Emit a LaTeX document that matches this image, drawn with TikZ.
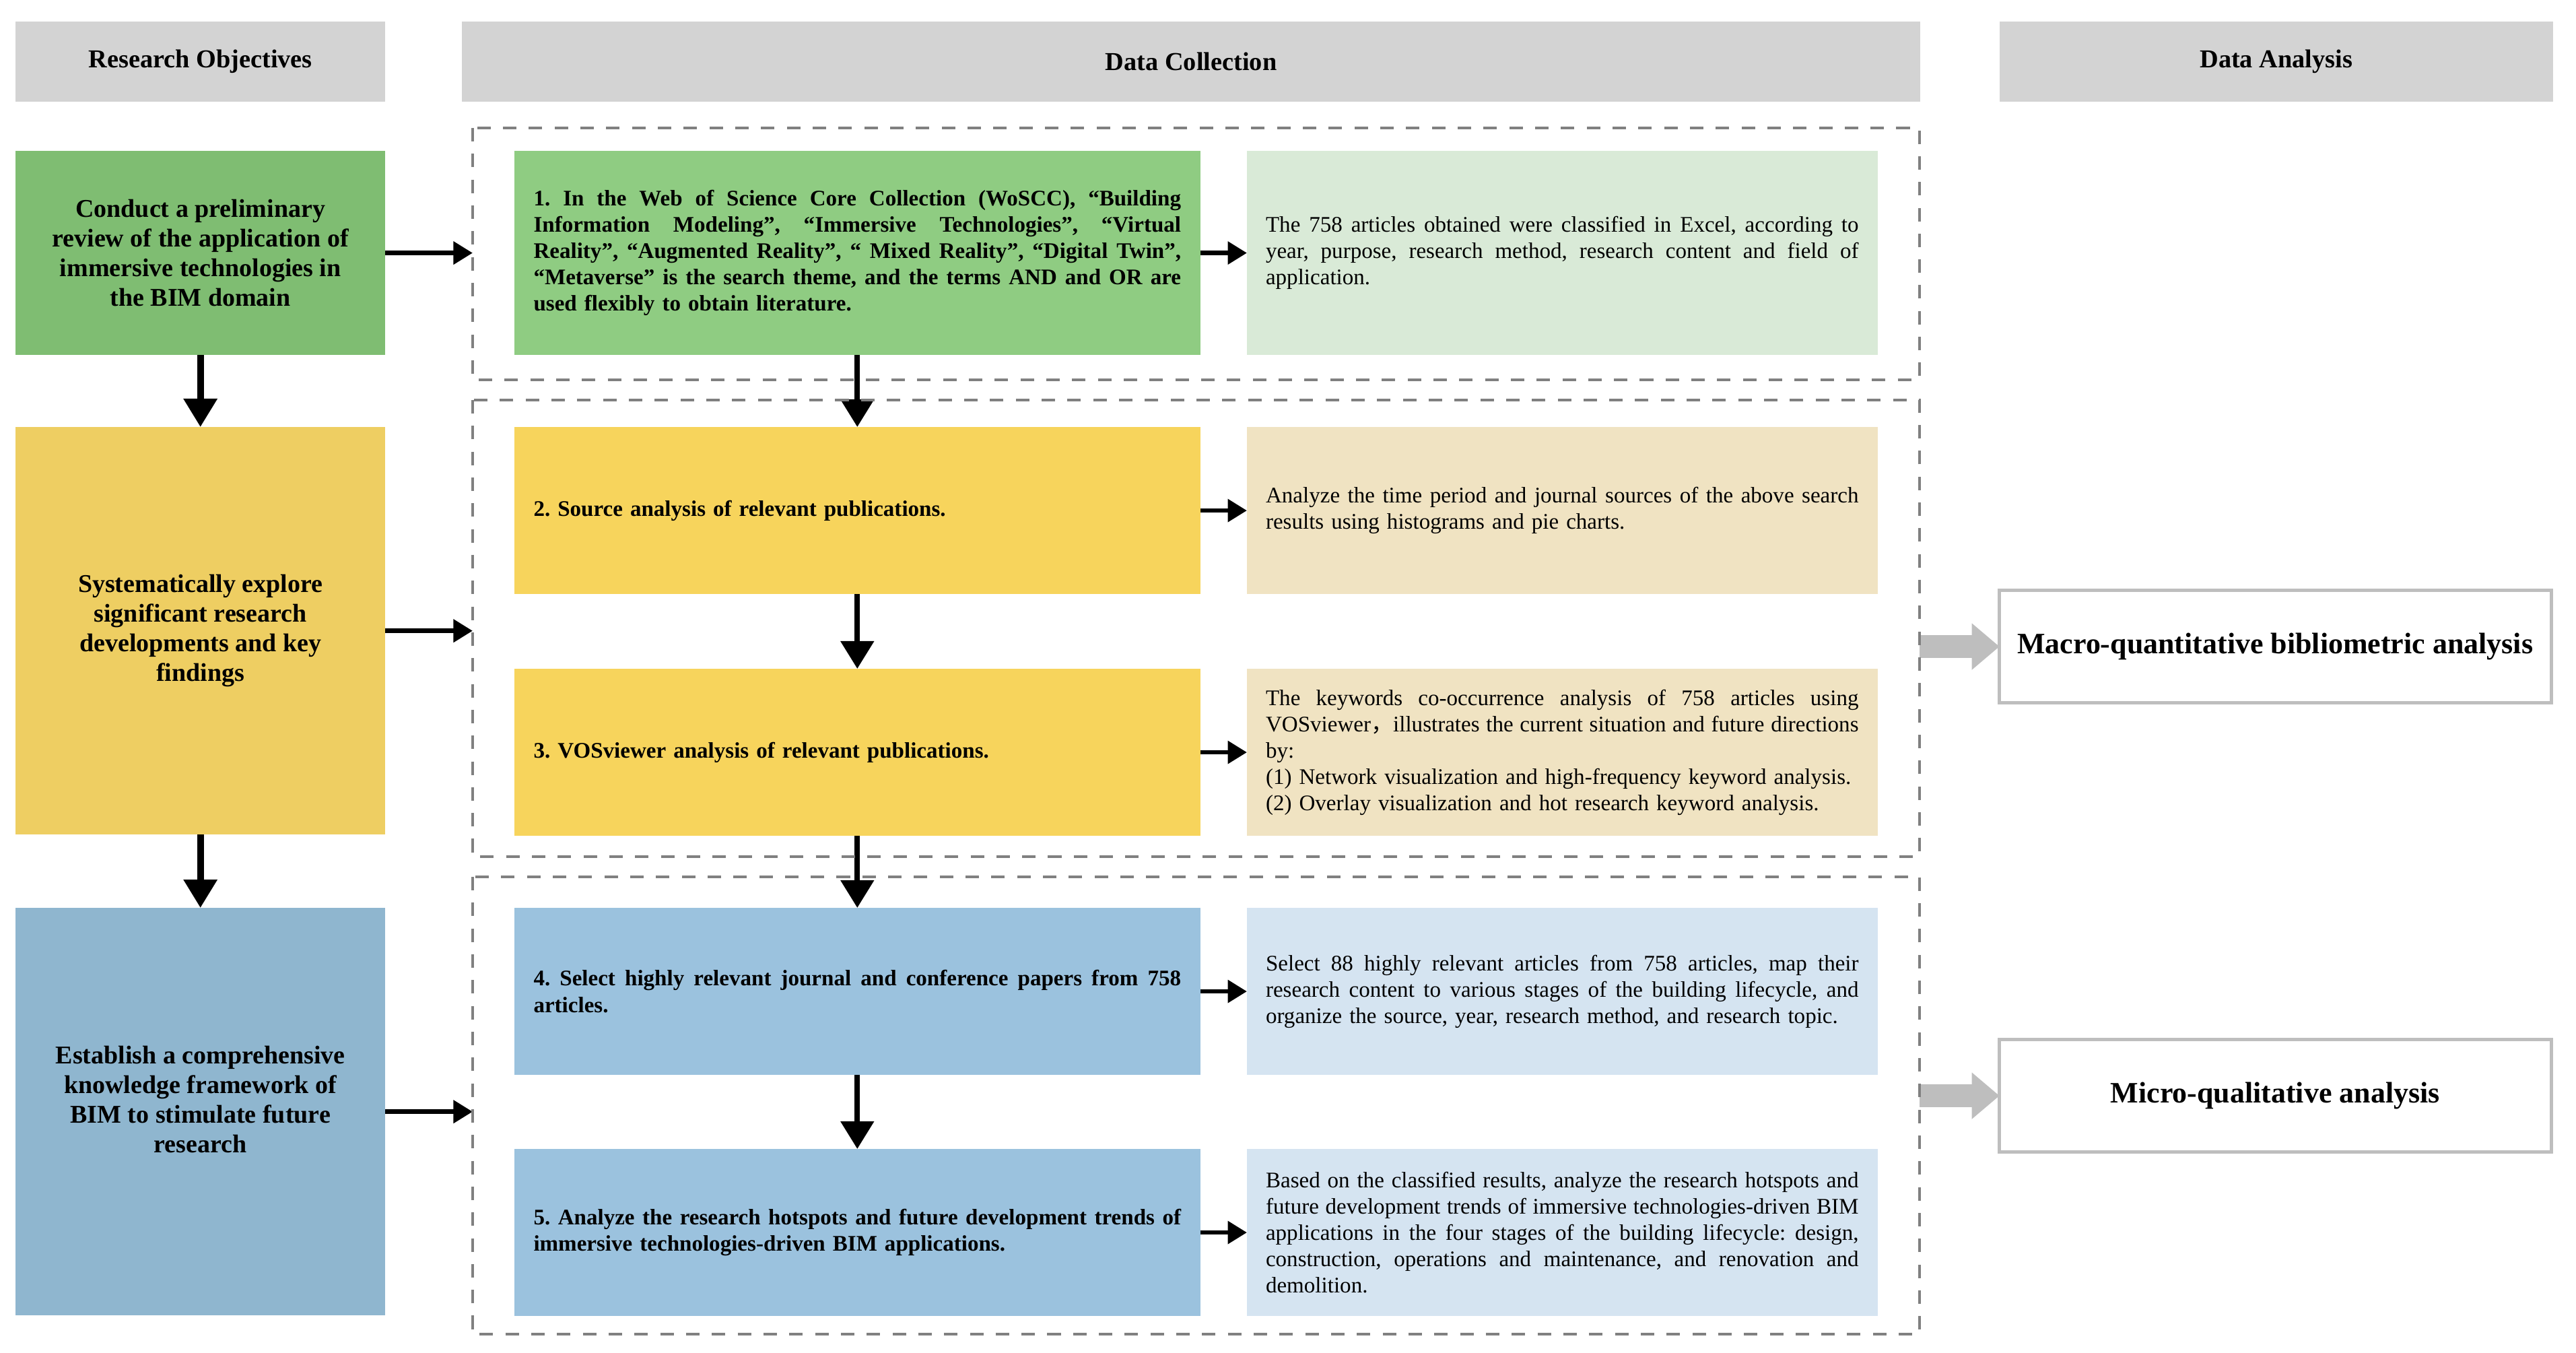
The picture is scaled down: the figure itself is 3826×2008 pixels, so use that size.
\documentclass[tikz,border=0pt]{standalone}
\usepackage{fontspec}
\setmainfont{Liberation Serif}
\newfontfamily\cjkfont{Noto Sans CJK SC}
\usetikzlibrary{arrows.meta}
\definecolor{hdr}{HTML}{D3D3D3}
\definecolor{lgreen}{HTML}{7FBD72}
\definecolor{mgreen}{HTML}{8FCC82}
\definecolor{pgreen}{HTML}{D9EAD7}
\definecolor{lyellow}{HTML}{EECE62}
\definecolor{myellow}{HTML}{F7D45C}
\definecolor{ptan}{HTML}{F0E3C2}
\definecolor{lblue}{HTML}{8FB6CF}
\definecolor{mblue}{HTML}{9BC2DE}
\definecolor{pblue}{HTML}{D5E4F1}
\definecolor{dashgray}{HTML}{808080}
\definecolor{arrgray}{HTML}{BEBEBE}
\newlength{\stepw}\setlength{\stepw}{9.61cm}
\newlength{\detw}\setlength{\detw}{8.80cm}
\newcommand{\js}[1]{\leavevmode\hbox to \stepw{\spaceskip=0.25em plus 1em\xspaceskip=0pt #1}}
\newcommand{\jd}[1]{\leavevmode\hbox to \detw{\spaceskip=0.25em plus 1em\xspaceskip=0pt #1}}
\frenchspacing
\begin{document}
\begin{tikzpicture}[x=0.01cm, y=-0.01cm,
  every node/.style={outer sep=0pt, inner sep=0pt, anchor=north west},
  header/.style={fill=hdr, minimum height=1.19cm, font=\fontsize{10.9}{13}\selectfont\bfseries},
  objbox/.style={minimum width=5.49cm, align=center, font=\fontsize{10.8}{12.5}\selectfont\bfseries\frenchspacing},
  stepbox/.style={minimum width=10.18cm, text width=9.61cm, inner xsep=0.285cm, align=left, font=\fontsize{9.4}{11.1}\selectfont\bfseries\frenchspacing},
  detailbox/.style={minimum width=9.36cm, text width=8.80cm, inner xsep=0.28cm, align=left, font=\fontsize{9.4}{11.1}\selectfont\frenchspacing},
  framebox/.style={minimum width=21.48cm},
  resultbox/.style={draw=arrgray, line width=1.42pt, minimum width=8.19cm, minimum height=1.67cm, font=\fontsize{12.5}{15}\selectfont\bfseries},
  framedash/.style={draw=dashgray, line width=0.04cm, dash pattern=on 0.2cm off 0.183cm},
  objarrow/.style={line width=2.76pt, -{Triangle[length=0.42cm, width=0.48cm]}},
  steparrow/.style={line width=2.36pt, -{Triangle[length=0.41cm, width=0.48cm]}},
  linkarrow/.style={line width=1.9pt, -{Triangle[length=0.285cm, width=0.33cm]}},
  grayarrow/.style={draw=arrgray, line width=0.333cm, -{Triangle[length=0.41cm, width=0.695cm, line width=0pt]}}
]
\useasboundingbox (0,0) rectangle (3826,2008);

% headers
\node[header, minimum width=5.49cm] (H1) at (23,32) {Research Objectives};
\node[header, minimum width=21.65cm] (H2) at (686,32) {Data Collection};
\node[header, minimum width=8.21cm] (H3) at (2970,32) {Data Analysis};

% dashed frames (drawn later)
\node[framebox, minimum height=3.74cm] (D1) at (702,190) {};
\node[framebox, minimum height=6.78cm] (D2) at (702,594) {};
\node[framebox, minimum height=6.79cm] (D3) at (702,1302) {};

% objectives
\node[objbox, fill=lgreen, minimum height=3.03cm] (L1) at (23,224)
  {Conduct a preliminary\\review of the application of\\immersive technologies in\\the BIM domain};
\node[objbox, fill=lyellow, minimum height=6.05cm] (L2) at (23,634)
  {Systematically explore\\significant research\\developments and key\\findings};
\node[objbox, fill=lblue, minimum height=6.05cm, text depth=0.36cm] (L3) at (23,1348)
  {Establish a comprehensive\\knowledge framework of\\BIM to stimulate future\\research};

% steps
\node[stepbox, fill=mgreen, minimum height=3.03cm] (B1) at (764,224)
  {\js{1. In the Web of Science Core Collection (WoSCC), “Building}\\
   \js{Information Modeling”, “Immersive Technologies”, “Virtual}\\
   \js{Reality”, “Augmented Reality”, “ Mixed Reality”, “Digital Twin”,}\\
   \js{“Metaverse” is the search theme, and the terms AND and OR are}\\
   used flexibly to obtain literature.};
\node[stepbox, fill=myellow, minimum height=2.48cm] (B2) at (764,634)
  {2. Source analysis of relevant publications.};
\node[stepbox, fill=myellow, minimum height=2.48cm] (B3) at (764,993)
  {3. VOSviewer analysis of relevant publications.};
\node[stepbox, fill=mblue, minimum height=2.48cm] (B4) at (764,1348)
  {\js{4. Select highly relevant journal and conference papers from 758}\\
   articles.};
\node[stepbox, fill=mblue, minimum height=2.48cm] (B5) at (764,1706)
  {\js{5. Analyze the research hotspots and future development trends of}\\
   immersive technologies-driven BIM applications.};

% details
\node[detailbox, fill=pgreen, minimum height=3.03cm] (R1) at (1852,224)
  {\jd{The 758 articles obtained were classified in Excel, according to}\\
   \jd{year, purpose, research method, research content and field of}\\
   application.};
\node[detailbox, fill=ptan, minimum height=2.48cm] (R2) at (1852,634)
  {\jd{Analyze the time period and journal sources of the above search}\\
   results using histograms and pie charts.};
\node[detailbox, fill=ptan, minimum height=2.48cm] (R3) at (1852,993)
  {\jd{The keywords co-occurrence analysis of 758 articles using}\\
   \jd{VOSviewer{\cjkfont ，}illustrates the current situation and future directions}\\
   by:\\
   (1) Network visualization and high-frequency keyword analysis.\\
   (2) Overlay visualization and hot research keyword analysis.};
\node[detailbox, fill=pblue, minimum height=2.48cm] (R4) at (1852,1348)
  {\jd{Select 88 highly relevant articles from 758 articles, map their}\\
   \jd{research content to various stages of the building lifecycle, and}\\
   organize the source, year, research method, and research topic.};
\node[detailbox, fill=pblue, minimum height=2.48cm] (R5) at (1852,1706)
  {\jd{Based on the classified results, analyze the research hotspots and}\\
   \jd{future development trends of immersive technologies-driven BIM}\\
   \jd{applications in the four stages of the building lifecycle: design,}\\
   \jd{construction, operations and maintenance, and renovation and}\\
   demolition.};

% results
\node[resultbox] (M1) at (2969.5,876.5) {Macro-quantitative bibliometric analysis};
\node[resultbox] (M2) at (2969.5,1543.5) {Micro-qualitative analysis};

% arrows
\draw[objarrow] (L1.south) -- (L2.north);
\draw[objarrow] (L2.south) -- (L3.north);
\draw[linkarrow] (L1.east) -- (L1.east -| D1.west);
\draw[linkarrow] (L2.east) -- (L2.east -| D2.west);
\draw[linkarrow] (L3.east) -- (L3.east -| D3.west);
\draw[steparrow] (B1.south) -- (B2.north);
\draw[steparrow] (B2.south) -- (B3.north);
\draw[steparrow] (B3.south) -- (B4.north);
\draw[steparrow] (B4.south) -- (B5.north);
\draw[linkarrow] (B1.east) -- (R1.west);
\draw[linkarrow] (B2.east) -- (R2.west);
\draw[linkarrow] (B3.east) -- (R3.west);
\draw[linkarrow] (B4.east) -- (R4.west);
\draw[linkarrow] (B5.east) -- (R5.west);
\draw[grayarrow] (D2.east |- M1.west) -- (M1.west);
\draw[grayarrow] (D3.east |- M2.west) -- (M2.west);

% dashed frames on top
\draw[framedash] (D1.north west) rectangle (D1.south east);
\draw[framedash] (D2.north west) rectangle (D2.south east);
\draw[framedash] (D3.north west) rectangle (D3.south east);
\end{tikzpicture}
\end{document}
